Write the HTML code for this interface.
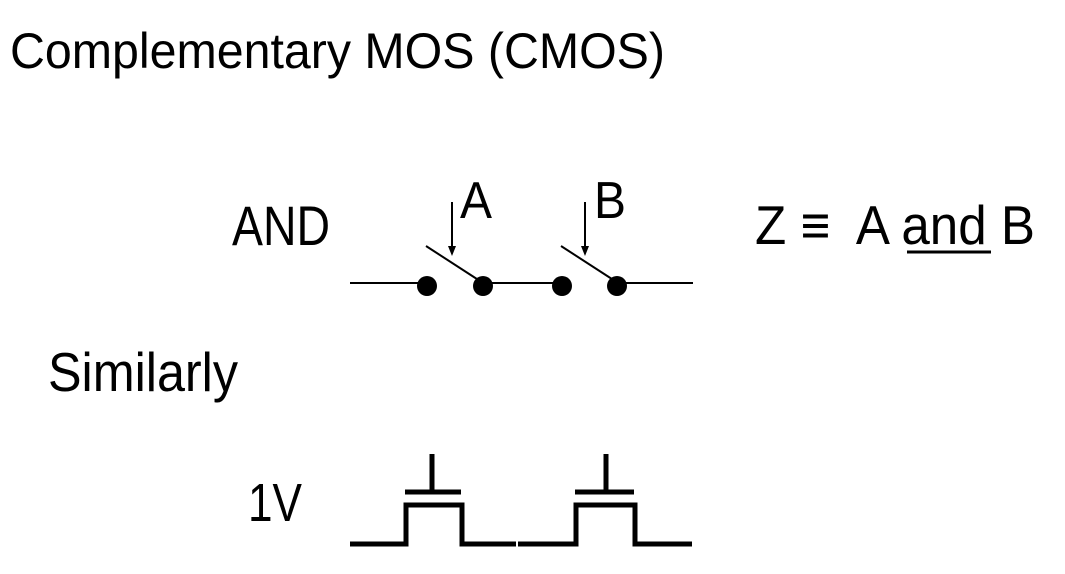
<!DOCTYPE html>
<html><head><style>
html,body{margin:0;padding:0;background:#fff;width:1065px;height:574px;overflow:hidden}
text{font-family:"Liberation Sans",sans-serif;fill:#000}
</style></head><body>
<svg width="1065" height="574" viewBox="0 0 1065 574" xmlns="http://www.w3.org/2000/svg">
<text x="10" y="68" font-size="50" textLength="655" lengthAdjust="spacingAndGlyphs">Complementary MOS (CMOS)</text>
<text x="232" y="245" font-size="56" textLength="98" lengthAdjust="spacingAndGlyphs">AND</text>
<text x="460" y="218" font-size="52" textLength="32" lengthAdjust="spacingAndGlyphs">A</text>
<text x="594" y="218" font-size="52" textLength="32" lengthAdjust="spacingAndGlyphs">B</text>
<text x="755" y="244" font-size="55" textLength="280" lengthAdjust="spacingAndGlyphs" xml:space="preserve">Z ≡  A and B</text>
<line x1="907" y1="252" x2="991" y2="252" stroke="#000" stroke-width="3"/>
<text x="48" y="391" font-size="55" textLength="190" lengthAdjust="spacingAndGlyphs">Similarly</text>
<text x="248" y="521" font-size="54" textLength="54" lengthAdjust="spacingAndGlyphs">1V</text>
<g stroke="#000" stroke-width="2" fill="none">
<line x1="350" y1="283" x2="427" y2="283"/>
<line x1="483" y1="283" x2="562" y2="283"/>
<line x1="617" y1="283" x2="693" y2="283"/>
<line x1="426" y1="246" x2="480" y2="281"/>
<line x1="561" y1="246" x2="615" y2="281"/>
<line x1="452" y1="202" x2="452" y2="248"/>
<line x1="585" y1="202" x2="585" y2="248"/>
</g>
<path d="M448,246 L456,246 L452,256 Z M581,246 L589,246 L585,256 Z" fill="#000"/>
<g fill="#000"><circle cx="427" cy="286" r="10"/><circle cx="483" cy="286" r="10"/><circle cx="562" cy="286" r="10"/><circle cx="617" cy="286" r="10"/></g>
<g stroke="#000" stroke-width="5" fill="none" stroke-linejoin="miter">
<path d="M350,544 H406 V505 H462 V544 H516"/>
<path d="M518,544 H576 V505 H635 V544 H692"/>
<line x1="405" y1="492" x2="461" y2="492"/>
<line x1="575" y1="492" x2="634" y2="492"/>
<line x1="432" y1="454" x2="432" y2="492"/>
<line x1="606" y1="454" x2="606" y2="492"/>
</g>
</svg>
</body></html>
